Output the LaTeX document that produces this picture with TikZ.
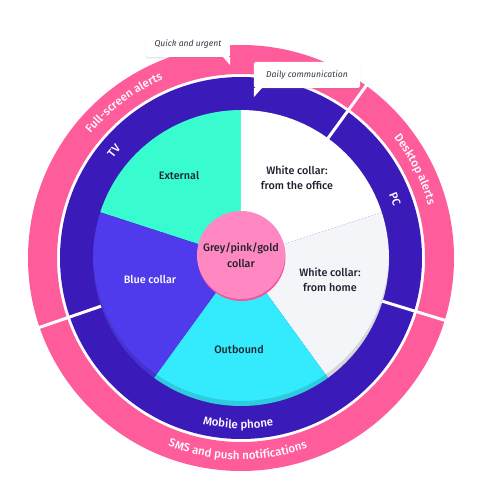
\documentclass[tikz,border=0pt]{standalone}
\usepackage{fontspec}
\setmainfont{Fira Sans}
\IfFontExistsTF{Fira Sans Medium}
  {\newfontfamily\semib{Fira Sans Medium}}
  {\newfontfamily\semib{Fira Sans}[FakeBold=1.2]}
\usetikzlibrary{decorations.text,shadows}

\definecolor{ringpink}{HTML}{FF5C9B}
\definecolor{ringblue}{HTML}{3A1BBA}
\definecolor{extgreen}{HTML}{38FCD0}
\definecolor{bluecol}{HTML}{503BEC}
\definecolor{outcyan}{HTML}{33EBFC}
\definecolor{homegrey}{HTML}{F4F5F9}
\definecolor{corepink}{HTML}{FF88C3}
\definecolor{corerim}{HTML}{F2559A}
\definecolor{labeltext}{HTML}{1E2230}

\newcommand\ringfont{\semib\fontsize{11.5}{13}\selectfont}

\tikzset{
  sector label/.style={align=center, text=labeltext, font=\semib\fontsize{10.8}{15.5}\selectfont},
  core disc/.style={circle, fill=corepink, minimum size=88pt, inner sep=0pt, sector label},
  callout/.style={fill=white, rounded corners=1.5pt, inner sep=0pt, text=labeltext!90,
    font=\itshape\fontsize{8.6}{10}\selectfont,
    drop shadow={opacity=.2, shadow xshift=0pt, shadow yshift=-1.5pt}},
  ring text/.style={decorate, decoration={text along path, text align=center,
    text color=white, text={|\ringfont|#1}}}
}

\begin{document}
\begin{tikzpicture}[x=1pt, y=1pt]
        \useasboundingbox (-241,-235) rectangle (240,258);

        % rings
        \fill[ringpink, even odd rule] (0,0) circle (213) (0,0) circle (184);
        \fill[ringblue] (0,0) circle (181);
        \foreach \a in {54,-17,199}
                \draw[white, line width=3pt] (\a:140) -- (\a:218);

        % pie
        \foreach \a/\b/\c in {90/162/extgreen, 18/90/white, -54/18/homegrey, -126/-54/outcyan, 162/234/bluecol}
                \fill[\c] (0,0) -- (\a:148) arc[start angle=\a, end angle=\b, radius=148] -- cycle;
        \begin{scope}
                \clip (0,0) circle (148);
                \fill[black, opacity=.12, even odd rule] (0,0) circle (148) (0,5) circle (148);
        \end{scope}

        \node[sector label] (ext) at (-62,82) {External};
        \node[sector label] (office) at (56,80) {White collar:\\from the office};
        \node[sector label] (home) at (89,-22) {White collar:\\from home};
        \node[sector label] (outb) at (-2,-92) {Outbound};
        \node[sector label, text=white] (blue) at (-91,-22) {Blue collar};

        \fill[corerim] (0.5,1) circle (44);
        \node[core disc] (core) at (0,3) {Grey/pink/gold\\collar};

        % ring labels
        \path[ring text={Full-screen alerts}] (160:195) arc[start angle=160, end angle=94, radius=195];
        \path[ring text={TV}] (170:162) arc[start angle=170, end angle=110, radius=162];
        \path[ring text={Desktop alerts}] (60:194.5) arc[start angle=60, end angle=-6, radius=194.5];
        \path[ring text={PC}] (45:161) arc[start angle=45, end angle=-3, radius=161];
        \path[ring text={Mobile phone}] (240:170.5) arc[start angle=240, end angle=298, radius=170.5];
        \path[ring text={SMS and push notifications}] (225:201.5) arc[start angle=225, end angle=313, radius=201.5];

        % callouts
        \node[callout, minimum width=84pt, minimum height=25pt] (quick) at (-53,213.5) {Quick and urgent};
        \fill[white] ([xshift=-7pt]quick.south east) -- (quick.south east) -- ([yshift=-8pt]quick.south east) -- cycle;
        \node[callout, minimum width=106pt, minimum height=26pt] (daily) at (66,183) {Daily communication};
        \fill[white] (daily.south west) -- ([xshift=8pt]daily.south west) -- ([yshift=-9pt]daily.south west) -- cycle;
\end{tikzpicture}
\end{document}
